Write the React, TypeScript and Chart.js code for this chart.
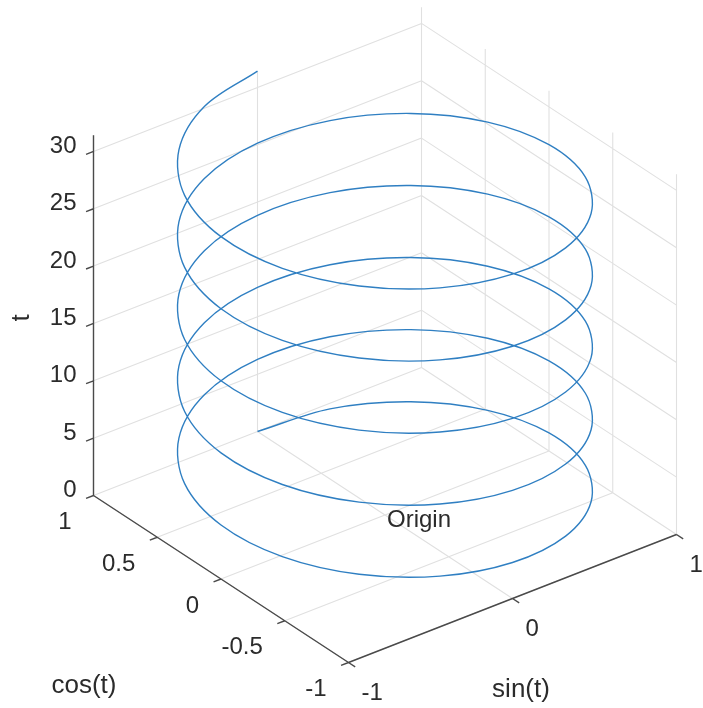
import React, { useEffect, useRef } from "react";
import { Chart, registerables } from "chart.js";

Chart.register(...registerables);

// ---- data: helix plot3(sin(t), cos(t), t), t = 0 .. 10*pi ----
const tVals = [
  0, 0.393, 0.785, 1.178, 1.571, 1.963, 2.356, 2.749, 3.142, 3.534, 3.927, 4.32, 4.712, 5.105, 5.498, 5.89,
  6.283, 6.676, 7.069, 7.461, 7.854, 8.247, 8.639, 9.032, 9.425, 9.817, 10.21, 10.603, 10.996, 11.388, 11.781, 12.174,
  12.566, 12.959, 13.352, 13.744, 14.137, 14.53, 14.923, 15.315, 15.708, 16.101, 16.493, 16.886, 17.279, 17.671, 18.064, 18.457,
  18.85, 19.242, 19.635, 20.028, 20.42, 20.813, 21.206, 21.598, 21.991, 22.384, 22.777, 23.169, 23.562, 23.955, 24.347, 24.74,
  25.133, 25.525, 25.918, 26.311, 26.704, 27.096, 27.489, 27.882, 28.274, 28.667, 29.06, 29.452, 29.845, 30.238, 30.631, 31.023,
  31.416,
];
const sinT = [
  0, 0.383, 0.707, 0.924, 1, 0.924, 0.707, 0.383, 0, -0.383, -0.707, -0.924, -1, -0.924, -0.707, -0.383,
  0, 0.383, 0.707, 0.924, 1, 0.924, 0.707, 0.383, 0, -0.383, -0.707, -0.924, -1, -0.924, -0.707, -0.383,
  0, 0.383, 0.707, 0.924, 1, 0.924, 0.707, 0.383, 0, -0.383, -0.707, -0.924, -1, -0.924, -0.707, -0.383,
  0, 0.383, 0.707, 0.924, 1, 0.924, 0.707, 0.383, 0, -0.383, -0.707, -0.924, -1, -0.924, -0.707, -0.383,
  0, 0.383, 0.707, 0.924, 1, 0.924, 0.707, 0.383, 0, -0.383, -0.707, -0.924, -1, -0.924, -0.707, -0.383,
  0,
];
const cosT = [
  1, 0.924, 0.707, 0.383, 0, -0.383, -0.707, -0.924, -1, -0.924, -0.707, -0.383, 0, 0.383, 0.707, 0.924,
  1, 0.924, 0.707, 0.383, 0, -0.383, -0.707, -0.924, -1, -0.924, -0.707, -0.383, 0, 0.383, 0.707, 0.924,
  1, 0.924, 0.707, 0.383, 0, -0.383, -0.707, -0.924, -1, -0.924, -0.707, -0.383, 0, 0.383, 0.707, 0.924,
  1, 0.924, 0.707, 0.383, 0, -0.383, -0.707, -0.924, -1, -0.924, -0.707, -0.383, 0, 0.383, 0.707, 0.924,
  1, 0.924, 0.707, 0.383, 0, -0.383, -0.707, -0.924, -1, -0.924, -0.707, -0.383, 0, 0.383, 0.707, 0.924,
  1,
];

const sinTicks = [-1, 0, 1];
const cosTicks = [-1, -0.5, 0, 0.5, 1];
const tTicks = [0, 5, 10, 15, 20, 25, 30];
const sinTickLabels = ["-1", "0", "1"];
const cosTickLabels = ["-1", "-0.5", "0", "0.5", "1"];
const tTickLabels = ["0", "5", "10", "15", "20", "25", "30"];
const zLimits = [0, 31.416];
const axisTitles = { x: "sin(t)", y: "cos(t)", z: "t" };
const annotation = { text: "Origin", x: 0, y: 0, z: 0 };

// ---- 3D view projection (az -37.5, el 30), in view-plane units ----
const EX = [164, 64];
const EY = [-127.5, 83.5];
const EZ = 11.47;
const W = 703;
const H = 708;
const CX = 385; // canvas position of (0,0,0)
const CY = 515;

type P = { x: number; y: number };
const proj = (sx: number, cy: number, z: number): P => ({
  x: sx * EX[0] + cy * EY[0],
  y: sx * EX[1] + cy * EY[1] + z * EZ,
});
const GAP: P = { x: NaN, y: NaN };

function segments(list: [number[], number[]][]): P[] {
  const out: P[] = [];
  list.forEach(([a, b]) => {
    out.push(proj(a[0], a[1], a[2]), proj(b[0], b[1], b[2]), GAP);
  });
  return out;
}

const [z0, z1] = zLimits;

const gridSegs: [number[], number[]][] = [];
// floor
sinTicks.forEach((s) => gridSegs.push([[s, -1, z0], [s, 1, z0]]));
cosTicks.forEach((c) => gridSegs.push([[-1, c, z0], [1, c, z0]]));
// back wall cos = 1
sinTicks.forEach((s) => gridSegs.push([[s, 1, z0], [s, 1, z1]]));
tTicks.forEach((z) => gridSegs.push([[-1, 1, z], [1, 1, z]]));
// back wall sin = 1
cosTicks.forEach((c) => gridSegs.push([[1, c, z0], [1, c, z1]]));
tTicks.forEach((z) => gridSegs.push([[1, -1, z], [1, 1, z]]));

// tick direction vectors (view units, ~8 px)
const lenEX = Math.hypot(EX[0], EX[1]);
const lenEY = Math.hypot(EY[0], EY[1]);
const TL = 8;
const dNegX = { x: (-EX[0] / lenEX) * TL, y: (-EX[1] / lenEX) * TL };
const dNegY = { x: (-EY[0] / lenEY) * TL, y: (-EY[1] / lenEY) * TL };

function axisData(): P[] {
  const out: P[] = [];
  const add = (a: P, b: P) => out.push(a, b, GAP);
  add(proj(-1, 1, z0), proj(-1, 1, z1)); // z axis
  add(proj(-1, -1, z0), proj(-1, 1, z0)); // cos axis
  add(proj(-1, -1, z0), proj(1, -1, z0)); // sin axis
  tTicks.forEach((z) => {
    const p = proj(-1, 1, z);
    add(p, { x: p.x + dNegX.x, y: p.y + dNegX.y });
  });
  cosTicks.forEach((c) => {
    const p = proj(-1, c, z0);
    add(p, { x: p.x + dNegX.x, y: p.y + dNegX.y });
  });
  sinTicks.forEach((s) => {
    const p = proj(s, -1, z0);
    add(p, { x: p.x + dNegY.x, y: p.y + dNegY.y });
  });
  return out;
}

const helixData: P[] = tVals.map((t, i) => proj(sinT[i], cosT[i], t));

const TEXT = "#2b2b2b";
const FONT = "'Liberation Sans', Arial, Helvetica, sans-serif";

const labelsPlugin = {
  id: "labels3d",
  afterDatasetsDraw(chart: any) {
    const { ctx } = chart;
    const xs = chart.scales.x;
    const ys = chart.scales.y;
    const px = (p: P) => [xs.getPixelForValue(p.x), ys.getPixelForValue(p.y)];
    ctx.save();
    ctx.fillStyle = TEXT;
    ctx.textBaseline = "middle";
    ctx.font = `24px ${FONT}`;
    // z tick labels
    ctx.textAlign = "right";
    tTicks.forEach((z, i) => {
      const [x, y] = px(proj(-1, 1, z));
      ctx.fillText(tTickLabels[i], x - 17, y - 5);
    });
    // cos tick labels
    cosTicks.forEach((c, i) => {
      const [x, y] = px(proj(-1, c, z0));
      ctx.fillText(cosTickLabels[i], x - 22, y + 27);
    });
    // sin tick labels
    ctx.textAlign = "left";
    sinTicks.forEach((s, i) => {
      const [x, y] = px(proj(s, -1, z0));
      ctx.fillText(sinTickLabels[i], x + 13, y + 31);
    });
    // annotation
    {
      const [x, y] = px(proj(annotation.x, annotation.y, annotation.z));
      ctx.fillText(annotation.text, x + 2, y + 5);
    }
    // axis titles
    ctx.font = `26px ${FONT}`;
    ctx.textAlign = "center";
    ctx.fillText(axisTitles.x, 521, 690);
    ctx.fillText(axisTitles.y, 84, 686);
    ctx.save();
    ctx.translate(22, 318);
    ctx.rotate(-Math.PI / 2);
    ctx.fillText(axisTitles.z, 0, 0);
    ctx.restore();
    ctx.restore();
  },
};

export default function App() {
  const ref = useRef<HTMLCanvasElement | null>(null);
  useEffect(() => {
    if (!ref.current) return;
    const chart = new Chart(ref.current, {
      type: "scatter",
      data: {
        datasets: [
          {
            data: helixData,
            showLine: true,
            borderColor: "#2f7fc2",
            borderWidth: 1.4,
            pointRadius: 0,
            tension: 0.34,
            fill: false,
            order: 0,
          },
          {
            data: axisData(),
            showLine: true,
            borderColor: "#4a4a4a",
            borderWidth: 1.4,
            pointRadius: 0,
            tension: 0,
            spanGaps: false,
            order: 1,
          },
          {
            data: segments(gridSegs),
            showLine: true,
            borderColor: "#e0e0e0",
            borderWidth: 1.1,
            pointRadius: 0,
            tension: 0,
            spanGaps: false,
            order: 2,
          },
        ],
      },
      options: {
        animation: false,
        responsive: false,
        maintainAspectRatio: false,
        events: [],
        layout: { padding: 0 },
        plugins: { legend: { display: false }, tooltip: { enabled: false } },
        scales: {
          x: { type: "linear", display: false, min: -CX, max: W - CX },
          y: { type: "linear", display: false, min: -(H - CY), max: CY },
        },
      },
      plugins: [labelsPlugin],
    } as any);
    return () => chart.destroy();
  }, []);
  return (
    <div style={{ position: "absolute", left: 0, top: 0, width: W, height: H, background: "#fff" }}>
      <canvas ref={ref} width={W} height={H} style={{ display: "block", width: W, height: H }} />
    </div>
  );
}
